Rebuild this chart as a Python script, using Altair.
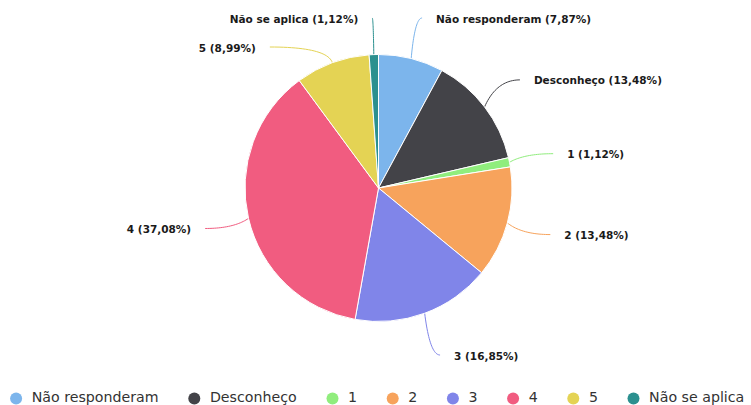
import math
import numpy as np
import pandas as pd
import altair as alt

# ---- data ----
categories = ["Não responderam", "Desconheço", "1", "2", "3", "4", "5", "Não se aplica"]
values = [7.87, 13.48, 1.12, 13.48, 16.85, 37.08, 8.99, 1.12]
colors = ["#7cb5ec", "#434348", "#90ed7d", "#f7a35c", "#8085e9", "#f15c80", "#e4d354", "#2b908f"]

# ---- layout constants ----
W, H = 751, 405
CX, CY, R = 378.5, 188.0, 133.5
RL = R + 44.5          # label radius
TOP_MIN = 18.0
GAP = 29.0

total = sum(values)
cum = np.cumsum([0] + values)
rows = []
for i, (c, v, col) in enumerate(zip(categories, values, colors)):
    mid = (cum[i] + v / 2) / total
    a = 2 * math.pi * mid
    side = 1 if math.sin(a) >= 0 else -1
    rows.append(dict(idx=i, cat=c, val=v, color=col, a=a, side=side,
                     ex=CX + R * math.sin(a), ey=CY - R * math.cos(a),
                     y0=CY - RL * math.cos(a),
                     label=f"{c} ({v:.2f}%)".replace(".", ",")))

# simple collision resolution per side
for s in (1, -1):
    items = sorted([r for r in rows if r["side"] == s], key=lambda r: r["y0"])
    prev = None
    for r in items:
        y = max(r["y0"], TOP_MIN)
        pushed = False
        if prev is not None and y < prev + GAP:
            y = prev + GAP
            pushed = True
        r["ay"] = y
        if pushed:
            r["ax"] = CX + s * math.sqrt(max(RL ** 2 - (y - CY) ** 2, 0))
        else:
            r["ax"] = CX + RL * math.sin(r["a"])
        prev = y

pie_df = pd.DataFrame([{k: r[k] for k in ("idx", "cat", "val")} for r in rows])

conn = []
for r in rows:
    px = CX + (R + 15) * math.sin(r["a"])
    p0 = np.array([r["ex"], r["ey"]])
    p1 = np.array([px, r["ay"]])
    p2 = np.array([r["ax"], r["ay"]])
    for t in np.linspace(0, 1, 25):
        p = (1 - t) ** 2 * p0 + 2 * (1 - t) * t * p1 + t ** 2 * p2
        conn.append(dict(cat=r["cat"], color=r["color"], t=t, x=p[0], y=p[1]))
conn_df = pd.DataFrame(conn)

lab_df = pd.DataFrame([dict(label=r["label"], side=r["side"],
                            x=r["ax"] + r["side"] * 14, y=r["ay"] + 1.5) for r in rows])

xs = alt.Scale(domain=[0, W], range=[0, W])
ys = alt.Scale(domain=[0, H], range=[0, H])

pie = alt.Chart(pie_df).mark_arc(outerRadius=R, stroke="white", strokeWidth=1).encode(
    theta=alt.Theta("val:Q", stack=True),
    order=alt.Order("idx:Q"),
    color=alt.Color("cat:N", sort=categories,
                    scale=alt.Scale(domain=categories, range=colors),
                    legend=alt.Legend(title=None, orient="none", legendX=9, legendY=391,
                                      direction="horizontal", symbolType="circle",
                                      symbolSize=144, symbolStrokeWidth=0,
                                      labelFont="DejaVu Sans", labelFontSize=14.2,
                                      labelColor="#333333", labelOffset=8.5,
                                      columnPadding=28.2)),
    x=alt.value(CX), y=alt.value(CY),
)

lines = alt.Chart(conn_df).mark_line(strokeWidth=1).encode(
    x=alt.X("x:Q", scale=xs, axis=None),
    y=alt.Y("y:Q", scale=ys, axis=None),
    detail="cat:N",
    order="t:Q",
    stroke=alt.Stroke("color:N", scale=None),
)

text_r = alt.Chart(lab_df).transform_filter("datum.side > 0").mark_text(
    align="left", baseline="middle", font="DejaVu Sans", fontSize=10.5,
    fontWeight="bold", color="#1a1a1a").encode(
    x=alt.X("x:Q", scale=xs, axis=None), y=alt.Y("y:Q", scale=ys, axis=None), text="label:N")

text_l = alt.Chart(lab_df).transform_filter("datum.side < 0").mark_text(
    align="right", baseline="middle", font="DejaVu Sans", fontSize=10.5,
    fontWeight="bold", color="#1a1a1a").encode(
    x=alt.X("x:Q", scale=xs, axis=None), y=alt.Y("y:Q", scale=ys, axis=None), text="label:N")

chart = alt.layer(lines, pie, text_r, text_l).properties(
    width=W, height=H, autosize=alt.AutoSizeParams(type="none"), padding=0,
    background="white",
).configure_view(stroke=None)

chart.save("out.html", embed_options={"renderer": "svg", "actions": False})
